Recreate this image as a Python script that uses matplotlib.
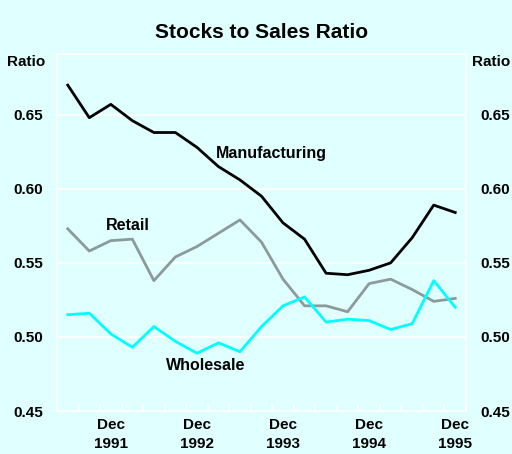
import matplotlib
matplotlib.use("Agg")
import matplotlib.pyplot as plt
import numpy as np

# Quarterly, Jun 1991 .. Dec 1995
quarters = ["Jun 1991", "Sep 1991", "Dec 1991", "Mar 1992", "Jun 1992", "Sep 1992", "Dec 1992",
            "Mar 1993", "Jun 1993", "Sep 1993", "Dec 1993", "Mar 1994", "Jun 1994", "Sep 1994",
            "Dec 1994", "Mar 1995", "Jun 1995", "Sep 1995", "Dec 1995"]
manufacturing = [0.670, 0.648, 0.657, 0.646, 0.638, 0.638, 0.628, 0.615, 0.606, 0.595,
                 0.577, 0.566, 0.543, 0.542, 0.545, 0.550, 0.567, 0.589, 0.584]
retail = [0.573, 0.558, 0.565, 0.566, 0.538, 0.554, 0.561, 0.570, 0.579, 0.564,
          0.539, 0.521, 0.521, 0.517, 0.536, 0.539, 0.532, 0.524, 0.526]
wholesale = [0.515, 0.516, 0.502, 0.493, 0.507, 0.497, 0.489, 0.496, 0.490, 0.507,
             0.521, 0.527, 0.510, 0.512, 0.511, 0.505, 0.509, 0.538, 0.520]
xtick_labels = ["Dec\n1991", "Dec\n1992", "Dec\n1993", "Dec\n1994", "Dec\n1995"]
yticks = [0.45, 0.50, 0.55, 0.60, 0.65]

bg = "#e0ffff"
plt.rcParams['font.family'] = ['Liberation Sans', 'DejaVu Sans']
plt.rcParams['font.weight'] = 'bold'

fig = plt.figure(figsize=(5.12, 4.54), dpi=100, facecolor=bg)
ax = fig.add_axes([57/512, 1 - 411/454, (466-57)/512, (411-54)/454], facecolor=bg)

x = np.arange(len(quarters))
ax.plot(x, manufacturing, color="black", lw=2, zorder=3)
ax.plot(x, retail, color="#8c9a9a", lw=2, zorder=3)
ax.plot(x, wholesale, color="#00ffff", lw=2, zorder=3)

ax.set_xlim(-0.5, len(quarters) - 0.5)
ax.set_ylim(0.45, 0.691)

for y in yticks[1:]:
    ax.axhline(y, color="white", lw=1.2, zorder=1)

for s in ax.spines.values():
    s.set_color("white")
    s.set_linewidth(1.2)

dec_idx = [i for i, q in enumerate(quarters) if q.startswith("Dec")]
ax.set_xticks(dec_idx)
ax.set_xticklabels(xtick_labels, fontsize=11, fontweight='bold', linespacing=1.45)
ax.set_xticks(np.arange(-0.5, len(quarters)), minor=True)
ax.tick_params(axis='x', which='major', length=0, pad=5)
ax.tick_params(axis='x', which='minor', direction='in', length=5, color='white', width=1.2)

ax.set_yticks(yticks)
ax.set_yticklabels([f"{v:.2f}" for v in yticks], fontsize=11, fontweight='bold')
ax.tick_params(axis='y', which='both', length=0, pad=10, labelleft=True, labelright=True)

fig.text(262/512, 1 - 33/454, "Stocks to Sales Ratio", ha='center', va='center',
         fontsize=15, fontweight='bold')
fig.text(26/512, 1 - 62/454, "Ratio", ha='center', va='center', fontsize=11, fontweight='bold')
fig.text(491/512, 1 - 62/454, "Ratio", ha='center', va='center', fontsize=11, fontweight='bold')

ax.text(6.88, 0.6235, "Manufacturing", ha='left', va='center', fontsize=11.5, fontweight='bold')
ax.text(2.8, 0.5755, "Retail", ha='center', va='center', fontsize=11.5, fontweight='bold')
ax.text(6.4, 0.4805, "Wholesale", ha='center', va='center', fontsize=11.5, fontweight='bold')

fig.savefig("out.png", dpi=100, facecolor=bg)
